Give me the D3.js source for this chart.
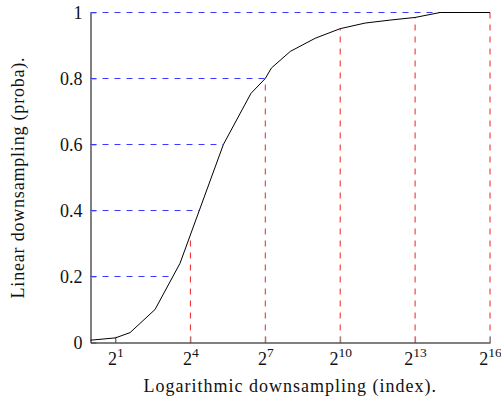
<!DOCTYPE html>
<html>
<head>
<meta charset="utf-8">
<script src="https://cdn.jsdelivr.net/npm/d3@7"></script>
<style>
  body { margin: 0; background: #fff; }
  svg { display: block; }
  text { font-family: "Liberation Serif", "Times New Roman", serif; fill: #111; }
  .axis path, .axis line { stroke: #000; }
  .axis .tick line { stroke: #888; }
</style>
</head>
<body>
<div class="chart"></div>
<script>
// index (log2 axis) and probability
const indexValues = [1, 2, 3, 6, 12, 40, 86, 128, 152, 256, 512, 1024, 2048, 4096, 8192, 16384, 32768, 65536];
const probaValues = [0.007, 0.014, 0.03, 0.10, 0.24, 0.60, 0.755, 0.80, 0.832, 0.882, 0.922, 0.951, 0.968, 0.977, 0.985, 1.0, 1.0, 1.0];

// tick positions, also where the guide lines sit
const xTicks = [2, 16, 128, 1024, 8192, 65536];
const yTicks = [0, 0.2, 0.4, 0.6, 0.8, 1];
const yGuides = [0.2, 0.4, 0.6, 0.8, 1];

const xLabel = "Logarithmic downsampling (index).";
const yLabel = "Linear downsampling (proba).";

const W = 501, H = 401;

const svg = d3.select(".chart")
  .append("svg")
  .attr("width", W)
  .attr("height", H);

const x = d3.scaleLog().base(2).domain([1, 65536]).range([90.5, 490]);
const y = d3.scaleLinear().domain([0, 1]).range([342.5, 12.5]);

const data = indexValues.map((v, i) => ({ x: v, y: probaValues[i] }));

// value of the curve at a given index (linear in log2 space)
function curveAt(v) {
  const lv = Math.log2(v);
  for (let i = 1; i < data.length; i++) {
    const a = Math.log2(data[i - 1].x), b = Math.log2(data[i].x);
    if (lv <= b) {
      const t = (lv - a) / (b - a);
      return data[i - 1].y + t * (data[i].y - data[i - 1].y);
    }
  }
  return data[data.length - 1].y;
}

// first index where the curve reaches p
function indexAt(p) {
  for (let i = 1; i < data.length; i++) {
    if (data[i].y >= p) {
      const a = Math.log2(data[i - 1].x), b = Math.log2(data[i].x);
      const t = (p - data[i - 1].y) / (data[i].y - data[i - 1].y);
      return Math.pow(2, a + t * (b - a));
    }
  }
  return data[data.length - 1].x;
}

// axes first, the guides go over the ticks
const xAxis = d3.axisBottom(x)
  .tickValues(xTicks)
  .tickSizeInner(-6)
  .tickSizeOuter(0)
  .tickPadding(10);

const yAxis = d3.axisLeft(y)
  .tickValues(yTicks)
  .tickFormat(d3.format("~g"))
  .tickSizeInner(-6)
  .tickSizeOuter(0)
  .tickPadding(8);

const gx = svg.append("g")
  .attr("class", "axis x-axis")
  .attr("transform", `translate(0, ${y(0)})`)
  .call(xAxis);

gx.selectAll(".tick text")
  .attr("font-family", null)
  .attr("font-size", 18)
  .each(function(d) {
    const t = d3.select(this).text("");
    t.append("tspan").text("2");
    t.append("tspan")
      .attr("dy", -8)
      .attr("font-size", 13.5)
      .text(Math.round(Math.log2(d)));
  });

const gy = svg.append("g")
  .attr("class", "axis y-axis")
  .attr("transform", `translate(${x(1)}, 0)`)
  .call(yAxis);

gy.selectAll(".tick text")
  .attr("font-family", null)
  .attr("font-size", 18);

// horizontal blue guides
svg.append("g")
  .selectAll("line")
  .data(yGuides)
  .join("line")
  .attr("x1", x(1))
  .attr("x2", d => x(indexAt(d)))
  .attr("y1", d => y(d))
  .attr("y2", d => y(d))
  .attr("stroke", "#3a3aff")
  .attr("stroke-width", 1)
  .attr("stroke-dasharray", "6,6");

// vertical red guides
svg.append("g")
  .selectAll("line")
  .data(xTicks)
  .join("line")
  .attr("x1", d => x(d))
  .attr("x2", d => x(d))
  .attr("y1", y(0))
  .attr("y2", d => y(curveAt(d)))
  .attr("stroke", "#f02020")
  .attr("stroke-width", 1)
  .attr("stroke-dasharray", "6,6");

// redraw the bottom axis line on top of the guides
gx.select(".domain").raise();
gx.raise();

// curve
const line = d3.line()
  .x(d => x(d.x))
  .y(d => y(d.y));

svg.append("path")
  .datum(data)
  .attr("fill", "none")
  .attr("stroke", "#000")
  .attr("stroke-width", 1)
  .attr("d", line);

// axis titles
svg.append("text")
  .attr("x", (x(1) + x(65536)) / 2)
  .attr("y", 392)
  .attr("text-anchor", "middle")
  .attr("font-size", 18)
  .attr("letter-spacing", 1)
  .text(xLabel);

svg.append("text")
  .attr("transform", `translate(24, ${(y(0) + y(1)) / 2}) rotate(-90)`)
  .attr("text-anchor", "middle")
  .attr("font-size", 18)
  .attr("letter-spacing", 0.8)
  .text(yLabel);
</script>
</body>
</html>
